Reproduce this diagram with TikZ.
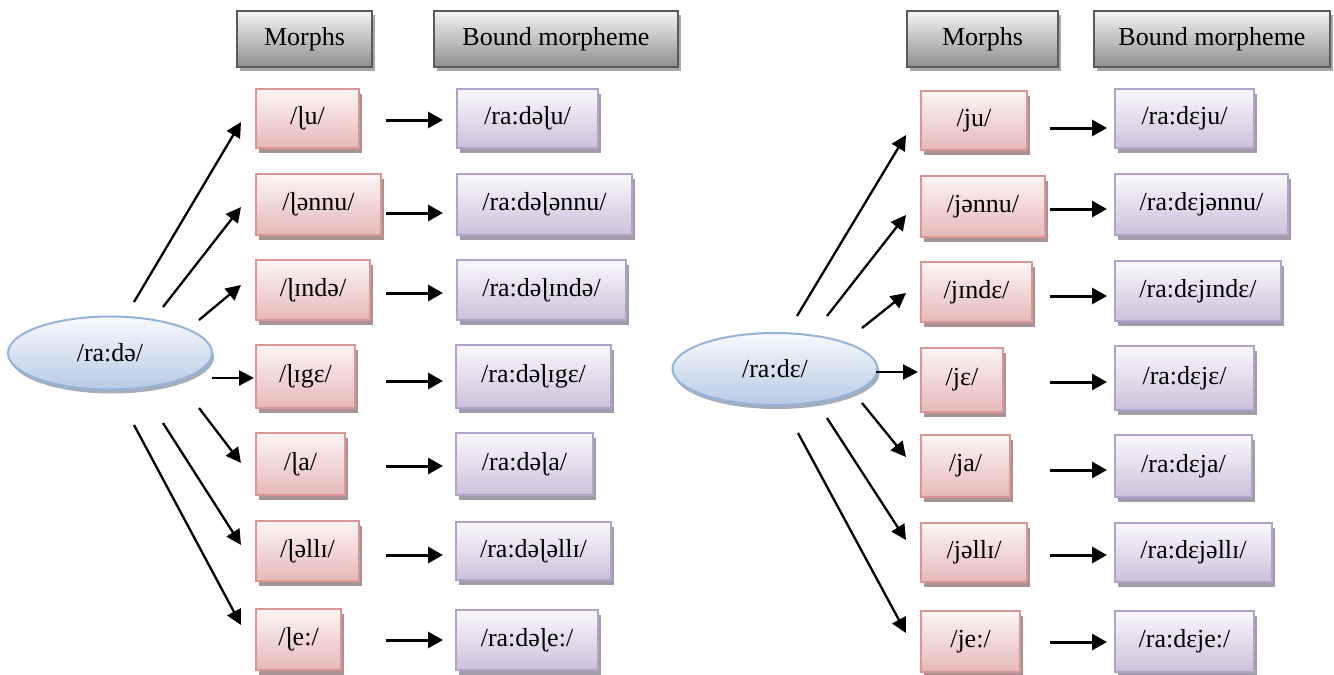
\documentclass[tikz,border=0pt]{standalone}
\usepackage{fontspec}
\setmainfont{Liberation Serif}
\usetikzlibrary{shadows,arrows.meta,shapes.geometric}
\definecolor{hdrtop}{HTML}{F4F4F4}
\definecolor{hdrbot}{HTML}{8E8E8E}
\definecolor{hdrline}{HTML}{5A5A5A}
\definecolor{hdrshad}{HTML}{A8A8A8}
\definecolor{pinktop}{HTML}{FDF5F5}
\definecolor{pinkbot}{HTML}{E5B8B7}
\definecolor{pinkline}{HTML}{D99694}
\definecolor{pinkshad}{HTML}{A89292}
\definecolor{lavtop}{HTML}{FAF8FC}
\definecolor{lavbot}{HTML}{CBC0DA}
\definecolor{lavline}{HTML}{B3A2C7}
\definecolor{lavshad}{HTML}{A29BAA}
\definecolor{blutop}{HTML}{F7F9FD}
\definecolor{blubot}{HTML}{B7CBE4}
\definecolor{bluline}{HTML}{95B3D7}
\definecolor{blushad}{HTML}{A4AEBA}
\begin{document}
\begin{tikzpicture}[x=1pt,y=-1pt,
  every node/.style={font=\fontsize{26}{30}\selectfont, inner sep=0pt, outer sep=0pt},
  sz/.style 2 args={minimum width=#1pt, minimum height=#2pt},
  hdr/.style={draw=hdrline, line width=2.5pt, top color=hdrtop, bottom color=hdrbot,
    drop shadow={shadow xshift=3pt, shadow yshift=-4pt, fill=hdrshad, opacity=1}},
  morph/.style={draw=pinkline, line width=2pt, top color=pinktop, bottom color=pinkbot,
    drop shadow={shadow xshift=3pt, shadow yshift=-5pt, fill=pinkshad, opacity=1}},
  bound/.style={draw=lavline, line width=2pt, top color=lavtop, bottom color=lavbot,
    drop shadow={shadow xshift=3pt, shadow yshift=-5pt, fill=lavshad, opacity=1}},
  root/.style={ellipse, draw=bluline, line width=2pt, top color=blutop, bottom color=blubot,
    drop shadow={shadow xshift=2pt, shadow yshift=-4pt, fill=blushad, opacity=1}},
  arr/.style={-{Triangle[length=15pt,width=15pt]}, line width=2.3pt},
  harr/.style={-{Triangle[length=15pt,width=16pt]}, line width=3pt}
]
\useasboundingbox (0,0) rectangle (1334,675);

% ---------- left group ----------
\node[hdr, sz={135}{56}] (hM1) at (304.5,39) {Morphs};
\node[hdr, sz={244}{56}] (hB1) at (556,39) {Bound morpheme};

\node[root, sz={204}{73}] (e1) at (110,353) {/ra:də/};

\node[morph, sz={103}{59}] (m1) at (307.5,118.5) {/ɭu/};
\node[morph, sz={125}{61}] (m2) at (318.5,204.5) {/ɭənnu/};
\node[morph, sz={114}{60}] (m3) at (313,290) {/ɭɪndə/};
\node[morph, sz={99}{63}] (m4) at (305.5,376.5) {/ɭɪgɛ/};
\node[morph, sz={89}{62}] (m5) at (300.5,464) {/ɭa/};
\node[morph, sz={103}{60}] (m6) at (307.5,551) {/ɭəllɪ/};
\node[morph, sz={85}{61}] (m7) at (298.5,639.5) {/ɭe:/};

\node[bound, sz={141}{59}] (b1) at (527.5,118.5) {/ra:dəɭu/};
\node[bound, sz={175}{61}] (b2) at (544.5,204.5) {/ra:dəɭənnu/};
\node[bound, sz={169}{60}] (b3) at (541.5,290) {/ra:dəɭɪndə/};
\node[bound, sz={155}{63}] (b4) at (533.5,376.5) {/ra:dəɭɪgɛ/};
\node[bound, sz={137}{62}] (b5) at (524.5,464) {/ra:dəɭa/};
\node[bound, sz={155}{58}] (b6) at (533.5,551) {/ra:dəɭəllɪ/};
\node[bound, sz={142}{60}] (b7) at (527,640) {/ra:dəɭe:/};

\coordinate (s1) at (134,302); \coordinate (t1) at (241,122);
\coordinate (s2) at (163,307); \coordinate (t2) at (241,207);
\coordinate (s3) at (199,320); \coordinate (t3) at (241,285);
\coordinate (s4) at (212,378); \coordinate (t4) at (254,378);
\coordinate (s5) at (199,408); \coordinate (t5) at (241,463);
\coordinate (s6) at (163,423); \coordinate (t6) at (241,545);
\coordinate (s7) at (134,425); \coordinate (t7) at (241,625);
\foreach \i in {1,...,7} \draw[arr] (s\i) -- (t\i);

\foreach \i/\y in {1/120,2/213,3/293,4/381,5/466,6/555,7/640}{
  \coordinate (hs\i) at (386,\y); \coordinate (he\i) at (443,\y);
  \draw[harr] (hs\i) -- (he\i);
}

% ---------- right group ----------
\node[hdr, sz={151}{56}] (hM2) at (982.5,39) {Morphs};
\node[hdr, sz={236}{56}] (hB2) at (1212,39) {Bound morpheme};

\node[root, sz={205}{72}] (e2) at (775,369) {/ra:dɛ/};

\node[morph, sz={106}{59}] (n1) at (974,120.5) {/ju/};
\node[morph, sz={124}{61}] (n2) at (983,206.5) {/jənnu/};
\node[morph, sz={111}{60}] (n3) at (976.5,292) {/jɪndɛ/};
\node[morph, sz={82}{64}] (n4) at (962,380) {/jɛ/};
\node[morph, sz={89}{62}] (n5) at (965.5,466) {/ja/};
\node[morph, sz={106}{59}] (n6) at (974,552.5) {/jəllɪ/};
\node[morph, sz={99}{61}] (n7) at (970.5,641.5) {/je:/};

\node[bound, sz={139}{59}] (c1) at (1184.5,118.5) {/ra:dɛju/};
\node[bound, sz={173}{61}] (c2) at (1201.5,204.5) {/ra:dɛjənnu/};
\node[bound, sz={166}{60}] (c3) at (1198,291) {/ra:dɛjɪndɛ/};
\node[bound, sz={139}{64}] (c4) at (1184.5,378) {/ra:dɛjɛ/};
\node[bound, sz={137}{62}] (c5) at (1183.5,466) {/ra:dɛja/};
\node[bound, sz={157}{59}] (c6) at (1193.5,552.5) {/ra:dɛjəllɪ/};
\node[bound, sz={139}{61}] (c7) at (1184.5,641.5) {/ra:dɛje:/};

\coordinate (u1) at (797,316); \coordinate (v1) at (906,135);
\coordinate (u2) at (827,316); \coordinate (v2) at (906,215);
\coordinate (u3) at (862,328); \coordinate (v3) at (906,293);
\coordinate (u4) at (876,372); \coordinate (v4) at (918,372);
\coordinate (u5) at (862,403); \coordinate (v5) at (906,457);
\coordinate (u6) at (827,418); \coordinate (v6) at (906,540);
\coordinate (u7) at (798,433); \coordinate (v7) at (906,633);
\foreach \i in {1,...,7} \draw[arr] (u\i) -- (v\i);

\foreach \i/\y in {1/128,2/209,3/296,4/382,5/470,6/555,7/642}{
  \coordinate (gs\i) at (1050,\y); \coordinate (ge\i) at (1107,\y);
  \draw[harr] (gs\i) -- (ge\i);
}
\end{tikzpicture}
\end{document}
